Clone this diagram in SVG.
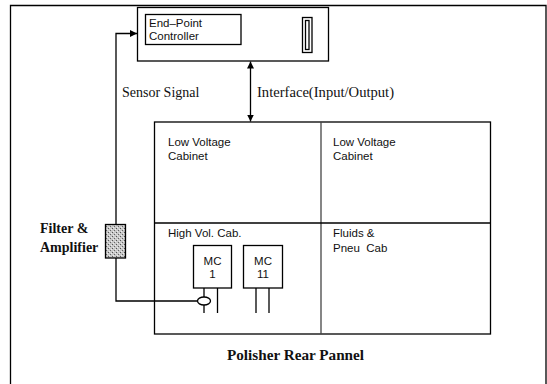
<svg xmlns="http://www.w3.org/2000/svg" width="547" height="384" viewBox="0 0 547 384">
<style>
.ln{fill:none;stroke:#000;stroke-width:1.3}
.gl{fill:none;stroke:#444;stroke-width:1.3}
.sans{font-family:"Liberation Sans",Arial,sans-serif;font-size:11.5px;fill:#111}
.ser{font-family:"Liberation Serif","Times New Roman",serif;font-size:14px;fill:#111}
.bold{font-weight:bold}
</style>
<defs>
<marker id="ah" viewBox="0 0 10 10" refX="10" refY="5" markerWidth="7" markerHeight="7" markerUnits="userSpaceOnUse" orient="auto-start-reverse">
<path d="M0,0 L10,5 L0,10 Z" fill="#000"/>
</marker>
<pattern id="stip" width="4" height="4" patternUnits="userSpaceOnUse">
<rect width="4" height="4" fill="#c8c8c8"/>
<rect x="0" y="0" width="1" height="1" fill="#555"/>
<rect x="2" y="2" width="1" height="1" fill="#666"/>
<rect x="3" y="1" width="1" height="1" fill="#eee"/>
<rect x="1" y="3" width="1" height="1" fill="#eee"/>
</pattern>
</defs>
<rect width="547" height="384" fill="#fff"/>
<g id="frame">
<path class="ln" d="M10.5,384 V5.5 H546 V384"/>
</g>
<g id="controller">
<rect class="ln" x="137.5" y="7.5" width="191" height="53.5"/>
<rect class="ln" x="145.5" y="14.5" width="95.5" height="30" stroke-width="1"/>
<text class="sans" x="149" y="27">End–Point</text>
<text class="sans" x="149" y="40">Controller</text>
<rect class="ln" x="302.5" y="17.5" width="9.5" height="35"/>
<rect class="ln" x="305.5" y="20.5" width="3.5" height="29" stroke-width="1"/>
</g>
<g id="panel">
<rect class="ln" x="154.5" y="122" width="336" height="212"/>
<line class="gl" x1="321" y1="122" x2="321" y2="334"/>
<line class="ln" x1="154.5" y1="223" x2="490.5" y2="223"/>
<text class="sans" x="168" y="146">Low Voltage</text>
<text class="sans" x="168" y="160">Cabinet</text>
<text class="sans" x="333" y="146">Low Voltage</text>
<text class="sans" x="333" y="160">Cabinet</text>
<text class="sans" x="168" y="237">High Vol. Cab.</text>
<text class="sans" x="333" y="237">Fluids &amp;</text>
<text class="sans" x="333" y="252" xml:space="preserve">Pneu  Cab</text>
</g>
<g id="mc1">
<rect class="ln" x="193.5" y="245.5" width="38" height="42.5"/>
<text class="sans" x="212.5" y="265" text-anchor="middle">MC</text>
<text class="sans" x="212.5" y="278" text-anchor="middle">1</text>
<line class="ln" x1="204" y1="288" x2="204" y2="313"/>
<line class="ln" x1="217.5" y1="288" x2="217.5" y2="313"/>
</g>
<g id="mc11">
<rect class="ln" x="243.5" y="245.5" width="39" height="42.5"/>
<text class="sans" x="263" y="265" text-anchor="middle">MC</text>
<text class="sans" x="263" y="278" text-anchor="middle">11</text>
<line class="ln" x1="256" y1="288" x2="256" y2="313"/>
<line class="ln" x1="269" y1="288" x2="269" y2="313"/>
</g>
<g id="filter">
<rect x="105.5" y="224.5" width="20" height="33.5" fill="url(#stip)" stroke="#000" stroke-width="1.3"/>
<text class="ser bold" x="40" y="233">Filter &amp;</text>
<text class="ser bold" x="40" y="252">Amplifier</text>
</g>
<g id="connectors">
<path class="ln" d="M116,224.5 V33.5 H137" marker-end="url(#ah)"/>
<path class="ln" d="M116,258 V301 H197.5"/>
<ellipse cx="204" cy="301" rx="6.5" ry="4" fill="#fff" stroke="#000" stroke-width="1.3"/>
<line class="ln" x1="250.5" y1="61.5" x2="250.5" y2="121.5" marker-start="url(#ah)" marker-end="url(#ah)"/>
<text class="ser" x="122" y="97">Sensor Signal</text>
<text class="ser" x="257" y="97" textLength="137" lengthAdjust="spacingAndGlyphs">Interface(Input/Output)</text>
</g>
<text class="ser bold" x="227" y="360" font-size="15" textLength="137" lengthAdjust="spacingAndGlyphs">Polisher Rear Pannel</text>
</svg>
